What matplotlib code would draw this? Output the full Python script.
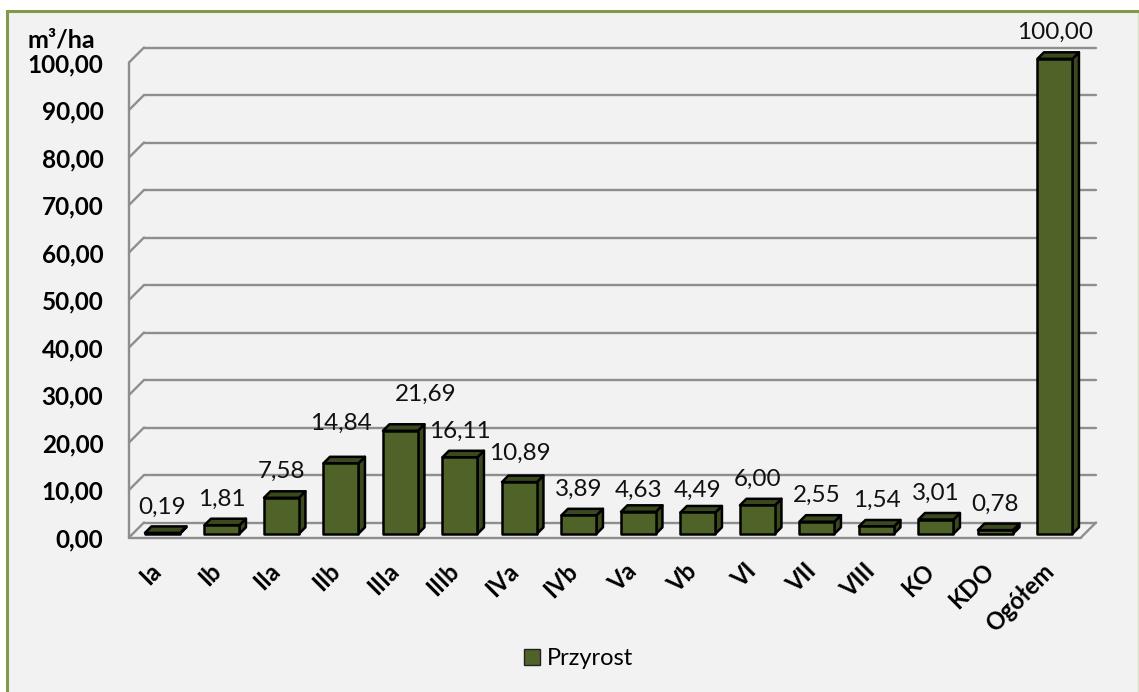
import matplotlib
matplotlib.use("Agg")
import matplotlib.pyplot as plt
from matplotlib.patches import Patch, Polygon, Rectangle
from matplotlib.transforms import Affine2D, IdentityTransform

plt.rcParams['font.family'] = ['Lato', 'DejaVu Sans']

# Data
categories = ["Ia", "Ib", "IIa", "IIb", "IIIa", "IIIb", "IVa", "IVb", "Va", "Vb",
              "VI", "VII", "VIII", "KO", "KDO", "Ogółem"]
values = [0.19, 1.81, 7.58, 14.84, 21.69, 16.11, 10.89, 3.89, 4.63, 4.49,
          6.00, 2.55, 1.54, 3.01, 0.78, 100.00]
y_ticks = [0, 10, 20, 30, 40, 50, 60, 70, 80, 90, 100]

# data labels that were moved by hand in the original (px right, px up)
label_nudge = {"IIb": (0, 14), "IIIa": (25, 10), "IVa": (0, 3), "Va": (0, -5), "Vb": (0, -4)}

W, H = 1139, 692
BG = "#f2f2f2"
BORDER = "#7f9a48"
GRID = "#8e8e8e"
FRONT = "#4f6228"
DARK = "#3b4a1e"
PX = IdentityTransform()

fig = plt.figure(figsize=(W / 100, H / 100), dpi=100, facecolor="white")

# chart background + green frame
fig.add_artist(Rectangle((6.5 / W, -0.01), (W - 7) / W, 1 - 11.5 / H + 0.01, transform=fig.transFigure,
                         facecolor=BG, edgecolor=BORDER, linewidth=2.2, zorder=-2))
fig.add_artist(Rectangle((W - 1.5, 0), 1.5, H - 13, transform=PX, facecolor="#d9dfc8", edgecolor="none", zorder=-1))

# axes = front plane of the 3d box, in pixels
left, right, y0, y100 = 129, 1081, 537.5, 62.5
ax = fig.add_axes([left / W, (H - y0) / H, (right - left) / W, (y0 - y100) / H])
ax.set_xlim(-0.5, len(categories) - 0.5)
ax.set_ylim(0, 100)
ax.patch.set_alpha(0)
for s in ax.spines.values():
    s.set_visible(False)


def shifted(px):
    # move something back along the depth direction of the fake 3d
    return ax.transData + Affine2D().translate(px, px)


DEPTH = 15
x_a, x_b = ax.get_xlim()
line_kw = dict(color=GRID, lw=1.7, clip_on=False, zorder=1, solid_capstyle="round")

# walls
ax.plot([x_a, x_a], [0, 100], **line_kw)
ax.plot([x_a, x_b], [0, 0], **line_kw)
for t in y_ticks:
    ax.plot([x_a, x_b], [t, t], transform=shifted(DEPTH), **line_kw)
    # diagonal from the left axis to the back wall
    p0 = ax.transData.transform((x_a, t))
    ax.plot([p0[0], p0[0] + DEPTH], [p0[1], p0[1] + DEPTH], transform=PX, **line_kw)
p1 = ax.transData.transform((x_b, 0))
ax.plot([p1[0], p1[0] + DEPTH], [p1[1], p1[1] + DEPTH], transform=PX, **line_kw)

# bars
BAR_W = 35 / ((right - left) / len(categories))
bar_off = 3.7
bar_d = 6.5
for i, v in enumerate(values):
    xl, yb = ax.transData.transform((i - BAR_W / 2, 0))
    xr, yt = ax.transData.transform((i + BAR_W / 2, v))
    xl, xr, yb, yt = xl + bar_off, xr + bar_off, yb + bar_off, yt + bar_off
    d = bar_d
    edge = dict(edgecolor="black", linewidth=1.8, joinstyle="round", transform=PX, clip_on=False, zorder=3)
    ax.add_patch(Polygon([(xr, yb), (xr + d, yb + d), (xr + d, yt + d), (xr, yt)], facecolor=DARK, **edge))
    ax.add_patch(Polygon([(xl, yt), (xr, yt), (xr + d, yt + d), (xl + d, yt + d)], facecolor=DARK, **edge))
    ax.add_patch(Polygon([(xl, yb), (xr, yb), (xr, yt), (xl, yt)], facecolor=FRONT, **edge))
    nx, ny = label_nudge.get(categories[i], (0, 0))
    ax.text((xl + xr) / 2 + nx, yt + 26 + ny, f"{v:.2f}".replace(".", ","), transform=PX, ha="center", va="center",
            fontsize=17.5, color="#111111", zorder=4)

# axis labels
ax.set_yticks(y_ticks)
ax.set_yticklabels([f"{t:.2f}".replace(".", ",") for t in y_ticks], fontsize=17.5, fontweight="bold")
ax.tick_params(axis="y", length=0, pad=18.5)
ax.set_xticks(range(len(categories)))
ax.set_xticklabels(categories, rotation=45, ha="right", rotation_mode="anchor", fontsize=17, fontweight="bold")
ax.tick_params(axis="x", length=0, pad=18)
for lab in ax.get_xticklabels():
    lab.set_transform(lab.get_transform() + Affine2D().translate(-9.5, 3))

fig.text(61 / W, 1 - 40 / H, "m³/ha", ha="center", va="center", fontsize=18, fontweight="bold")

# legend
fig.legend(handles=[Patch(facecolor=FRONT, edgecolor="#222222", label="Przyrost")], loc="center",
           bbox_to_anchor=(578.5 / W, 1 - 658.5 / H), frameon=False, fontsize=17,
           handlelength=0.65, handleheight=0.65, handletextpad=0.3)

fig.savefig("out.png", dpi=100, facecolor=fig.get_facecolor())
